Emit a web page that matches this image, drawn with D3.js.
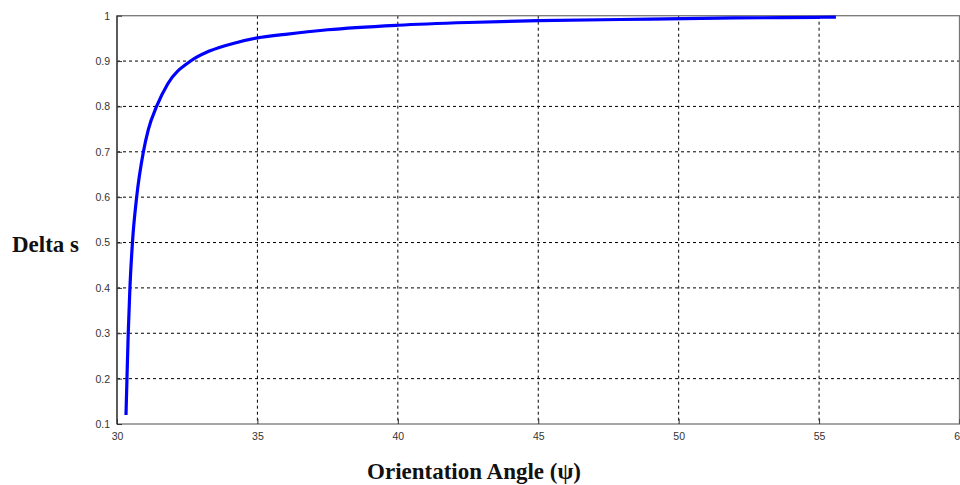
<!DOCTYPE html>
<html><head><meta charset="utf-8">
<script src="https://cdn.jsdelivr.net/npm/d3@7"></script>
<style>body{margin:0;background:#fff}svg{display:block}</style>
</head><body>
<svg id="c" width="960" height="485"></svg>
<script>
const angle = [30.32,30.355,30.40,30.46,30.55,30.70,30.94,31.12,31.41,31.81,32.62,33.29,34.24,35.0,36,37.5,40,42.5,45,49,52,55,55.6];
const delta = [0.12,0.2,0.3,0.4,0.5,0.6,0.7,0.75,0.8,0.85,0.9,0.922,0.9405,0.951,0.959,0.969,0.979,0.985,0.989,0.9925,0.995,0.9965,0.997];
const xTicks = [30,35,40,45,50,55,60];
const yTicks = [0.1,0.2,0.3,0.4,0.5,0.6,0.7,0.8,0.9,1];
const yTickLabels = ["0.1","0.2","0.3","0.4","0.5","0.6","0.7","0.8","0.9","1"];

const svg = d3.select("#c");
const L=117, R=959.5, T=15.7, B=424;
const x = d3.scaleLinear().domain([30,60]).range([L,R]);
const y = d3.scaleLinear().domain([0.1,1]).range([B,T]);

const g = svg.append("g");
// grid
g.selectAll(".vg").data(xTicks.slice(1,-1)).join("line")
  .attr("x1",d=>x(d)).attr("x2",d=>x(d)).attr("y1",T).attr("y2",B)
  .attr("stroke","#000").attr("stroke-width",1).attr("stroke-dasharray","3,3");
g.selectAll(".hg").data(yTicks.slice(1,-1)).join("line")
  .attr("x1",L).attr("x2",R).attr("y1",d=>y(d)).attr("y2",d=>y(d))
  .attr("stroke","#000").attr("stroke-width",1).attr("stroke-dasharray","3,3");

// frame
g.append("rect").attr("x",L).attr("y",T).attr("width",R-L).attr("height",B-T)
  .attr("fill","none").attr("stroke","#777").attr("stroke-width",1.3);
g.append("line").attr("x1",L).attr("x2",L).attr("y1",T).attr("y2",B).attr("stroke","#333").attr("stroke-width",1.3);

// axes
const xa = svg.append("g").attr("transform",`translate(0,${B})`)
  .call(d3.axisBottom(x).tickValues(xTicks).tickSize(-5).tickPadding(9).tickFormat(d3.format("d")));
const ya = svg.append("g").attr("transform",`translate(${L},0)`)
  .call(d3.axisLeft(y).tickValues(yTicks).tickSize(-5).tickPadding(7).tickFormat((d,i)=>yTickLabels[i]));
[xa,ya].forEach(a=>{
  a.select(".domain").remove();
  a.selectAll(".tick line").attr("stroke","#333");
  a.selectAll("text").attr("font-family","Liberation Sans, Arial, sans-serif").attr("font-size",10.5).attr("fill","#333");
});

// curve
const line = d3.line().x((d,i)=>x(angle[i])).y(d=>y(d)).curve(d3.curveMonotoneX);
svg.append("path").datum(delta).attr("d",line).attr("fill","none")
  .attr("stroke","#0000ff").attr("stroke-width",3.2).attr("stroke-linejoin","round");

// titles
svg.append("text").attr("x",12).attr("y",252).text("Delta s")
  .attr("font-family","Liberation Serif, Times New Roman, serif").attr("font-weight","bold").attr("font-size",23).attr("fill","#111");
svg.append("text").attr("x",474).attr("y",479).attr("text-anchor","middle").text("Orientation Angle (ψ)")
  .attr("font-family","Liberation Serif, Times New Roman, serif").attr("font-weight","bold").attr("font-size",23).attr("fill","#111");
</script>
</body></html>
